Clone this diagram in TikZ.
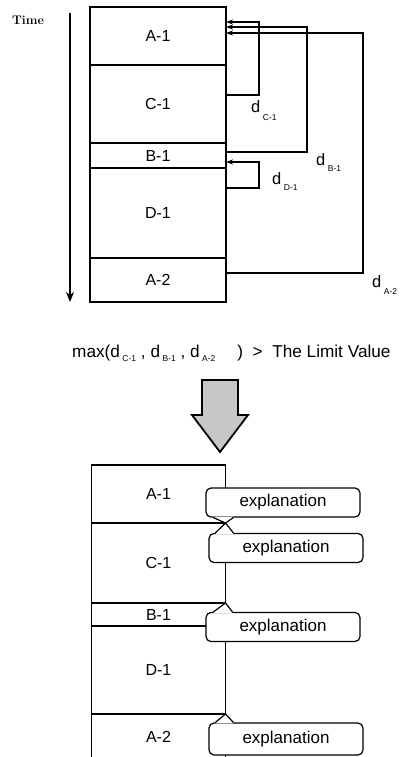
\documentclass[tikz,border=0pt]{standalone}
\usepackage{fontspec}
\setsansfont{Liberation Sans}
\usetikzlibrary{arrows.meta,positioning,calc}
\newcommand{\dlab}[2][8pt]{d\kern2.5pt\raisebox{-#1}{\fontsize{8.5}{8.5}\selectfont #2}}

\begin{document}
\begin{tikzpicture}[x=1pt, y=-1pt,
    block/.style={draw, line width=1.5pt, minimum width=136pt, inner sep=0pt,
                  outer sep=0pt, font=\sffamily\fontsize{16}{16}\selectfont},
    loopline/.style={line width=1.4pt, -{Stealth[length=7pt,width=5pt]}},
    timeline/.style={line width=2.4pt, -{Stealth[length=10pt,width=8pt]}},
    dlbl/.style={font=\sffamily\fontsize{16.5}{16.5}\selectfont, inner sep=0pt,
                 anchor=base west},
    explbox/.style={draw, fill=white, line width=1.2pt, rounded corners=5pt,
                    minimum width=154pt, minimum height=29pt, inner sep=0pt,
                    font=\sffamily\fontsize{17}{17}\selectfont},
    tail/.style={line width=1.2pt},
    bigarrow/.style={draw, fill=black!22, line width=1.8pt, line join=miter},
  ]
    \useasboundingbox (0,0) rectangle (401,757);

    % Time axis
    \node[font=\rmfamily\bfseries\fontsize{12.5}{12.5}\selectfont] (time) at (28,20) {Time};
    \coordinate (tstart) at (70,13);
    \coordinate (tend) at (70,302);
    \draw[timeline] (tstart) -- (tend);

    % Upper stack of periods
    \node[block, minimum height=58pt] (a1) at (158,36) {A-1};
    \node[block, minimum height=78pt, below=0pt of a1] (c1) {C-1};
    \node[block, minimum height=25pt, below=0pt of c1] (b1) {B-1};
    \node[block, minimum height=90pt, below=0pt of b1] (d1) {D-1};
    \node[block, minimum height=44pt, below=0pt of d1] (a2) {A-2};

    % Distances back to the earlier periods
    \draw[loopline] ([yshift=9pt]c1.east) -| ([xshift=33pt,yshift=14pt]a1.east)
      -- ([yshift=14pt]a1.east);
    \draw[loopline] ([yshift=3.5pt]b1.east) -| ([xshift=81pt,yshift=9pt]a1.east)
      -- ([yshift=9pt]a1.east);
    \draw[loopline] ([yshift=7pt]a2.east) -| ([xshift=137pt,yshift=3pt]a1.east)
      -- ([yshift=3pt]a1.east);
    \draw[loopline] ([yshift=25pt]d1.east) -| ([xshift=33pt,yshift=-6.5pt]b1.east)
      -- ([yshift=-6.5pt]b1.east);

    \node[dlbl] (dc1) at (251,113) {\dlab{C-1}};
    \node[dlbl] (db1) at (316,165) {\dlab[6.5pt]{B-1}};
    \node[dlbl] (dd1) at (272,184) {\dlab[6.5pt]{D-1}};
    \node[dlbl] (da2) at (372,287) {\dlab[7pt]{A-2}};

    % Condition
    \node[dlbl, font=\sffamily\fontsize{17.2}{17.2}\selectfont] (cond) at (72,357)
      {max(\dlab[4pt]{C-1} , \dlab[4pt]{B-1} , \dlab[4pt]{A-2}\quad\ )\ \ >\ \ The Limit Value};

    % Big arrow
    \filldraw[bigarrow] (202,380) -- (238,380) -- (238,415) -- (248,415)
      -- (220,452) -- (192,415) -- (202,415) -- cycle;

    % Lower stack of periods
    \node[block, minimum width=134pt, minimum height=58pt] (ba1) at (158.5,494) {A-1};
    \node[block, minimum width=134pt, minimum height=80pt, below=0pt of ba1] (bc1) {C-1};
    \node[block, minimum width=134pt, minimum height=23pt, below=0pt of bc1] (bb1) {B-1};
    \node[block, minimum width=134pt, minimum height=88pt, below=0pt of bb1] (bd1) {D-1};
    \node[block, minimum width=134pt, minimum height=46pt, below=0pt of bd1] (ba2) {A-2};

    % Explanations
    \node[explbox] (e1) at (283,502.5) {explanation};
    \fill[white] ([xshift=8pt,yshift=1pt]e1.south west) -- (ba1.south east)
      -- ([xshift=28pt,yshift=1pt]e1.south west) -- cycle;
    \draw[tail] ([xshift=8pt]e1.south west) -- (ba1.south east)
      -- ([xshift=28pt]e1.south west);

    \node[explbox] (e2) at (286,548) {explanation};
    \fill[white] ([xshift=7pt,yshift=-1pt]e2.north west) -- (ba1.south east)
      -- ([xshift=25pt,yshift=-1pt]e2.north west) -- cycle;
    \draw[tail] ([xshift=7pt]e2.north west) -- (ba1.south east)
      -- ([xshift=25pt]e2.north west);

    \node[explbox] (e3) at (283,627) {explanation};
    \fill[white] ([xshift=8pt,yshift=-1pt]e3.north west) -- (bc1.south east)
      -- ([xshift=27pt,yshift=-1pt]e3.north west) -- cycle;
    \draw[tail] ([xshift=8pt]e3.north west) -- (bc1.south east)
      -- ([xshift=27pt]e3.north west);

    \node[explbox, minimum height=32pt] (e4) at (286,739) {explanation};
    \fill[white] ([xshift=7pt,yshift=-1pt]e4.north west) -- (bd1.south east)
      -- ([xshift=25pt,yshift=-1pt]e4.north west) -- cycle;
    \draw[tail] ([xshift=7pt]e4.north west) -- (bd1.south east)
      -- ([xshift=25pt]e4.north west);
\end{tikzpicture}
\end{document}
